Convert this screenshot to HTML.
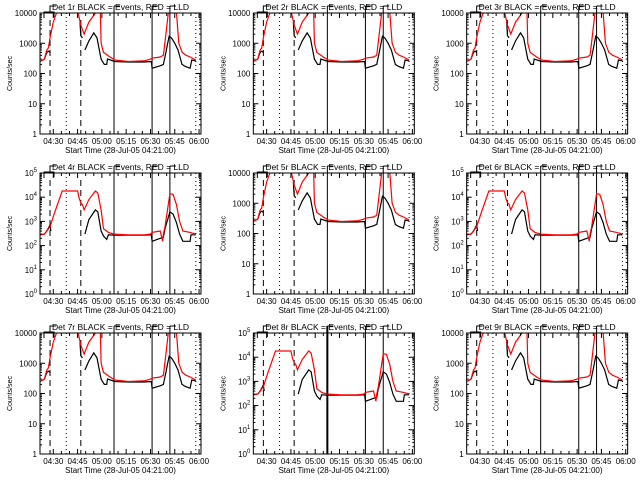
<!DOCTYPE html>
<html><head><meta charset="utf-8"><style>
html,body{margin:0;padding:0;background:#fff}
svg{display:block}
text{font-family:"Liberation Sans",sans-serif;fill:#000}
</style></head><body>
<svg id="chart" width="640" height="480" xmlns="http://www.w3.org/2000/svg"></svg>
<script>
// time in minutes since 04:21:00
const timesA = [0.8,3.5,5,6,7,9,11,12,23.5,24,26,28,31,35,37,38,38.5,40,44,47,55,65,69,70,75,77,78.5,80,83,85,86.5,88.6,91,93.5,97];
const redA   = [250,300,600,700,1500,5000,10000,30000,30000,12000,4000,2000,5000,10000,15000,12000,1000,500,350,280,250,260,300,320,350,400,2000,10000,11000,11000,1000,500,400,350,280];
const timesBlk = [0.8,3.5,5,6,7,7.5,8,25.5,26,27,27.5,28.5,31,34,36,38.5,40.5,42,42.5,47,55,65,69.5,70,75,77,78.5,80.5,82,84,86,88.5,90.5,93.5,94.5,97];
const blackA = [250,300,500,550,500,null,null,5000,1800,1500,null,600,1200,2200,1500,300,200,200,300,250,240,240,250,150,180,200,500,1700,1500,1000,600,200,170,150,280,260];
const timesB = [0.8,3.5,5,7,10,14.5,24,25,26,27,28,31,35,36.5,38.5,40,43,46.5,55,65,69,70,75,76.5,77,78,81,83,85,87,89,93.5,97];
const redB   = [280,300,400,600,2500,18000,18000,9000,6000,5000,3000,8000,18000,15000,3000,500,350,300,280,280,300,350,400,150,300,600,14000,13000,5000,1000,400,350,300];
const blackB = [280,300,400,700,null,null,null,null,null,null,300,1200,3000,2500,400,250,180,280,270,270,300,150,200,220,300,500,2500,2000,900,300,150,150,280,280,280].slice(0,0);
const timesBB = [0.8,3.5,5,7,7.5,8,28.5,31,35,36.5,38.5,40,42,43,46.5,55,65,69.5,70,75,77,78,81,83,85,87,89,93.5,94,97];
const blackBB = [280,300,400,700,400,null,300,1200,3000,2500,400,250,180,280,270,270,270,280,150,200,220,500,2500,2000,900,300,150,150,280,280];
const xTickLabels = ["04:30","04:45","05:00","05:15","05:30","05:45","06:00"];
const xTickTimes = [9,24,39,54,69,84,99];
const panelNames = ["1r","2r","3r","4r","5r","6r","7r","8r","9r"];
const panelGroup = ["A","A","A","B","A","B","A","B","A"];
const dashedTimes=[7,26], dottedTimes=[17,97], solidTimes=[46.5,70,81];

const NS="http://www.w3.org/2000/svg";
const svg=document.getElementById('chart');
function mk(tag,attrs,parent){const e=document.createElementNS(NS,tag);for(const k in attrs)e.setAttribute(k,attrs[k]);(parent||svg).appendChild(e);return e;}

panelNames.forEach((nm,i)=>{
  const col=i%3,row=Math.floor(i/3);
  const ox=col*213.33, oy=row*160;
  const g=mk('g',{transform:`translate(${ox.toFixed(2)},${oy})`});
  
  
  const L=40,R=201,T=13,B=134;
  const isB=panelGroup[i]==="B";
  const ymaxExp=isB?5:4;
  const xs=t=>L+(t-0.8)*(R-L)/(100.2-0.8);
  const ys=v=>B-(Math.log10(v))*(B-T)/ymaxExp;
  const clip=mk('clipPath',{id:'c'+i},g);
  mk('rect',{x:L,y:T,width:R-L,height:B-T},clip);
  // vertical markers
  dashedTimes.forEach(t=>{const l=mk('line',{x1:xs(t),x2:xs(t),y1:20,y2:B,stroke:'#000','stroke-dasharray':'6,4'},g);});
  dottedTimes.forEach(t=>{const l=mk('line',{x1:xs(t),x2:xs(t),y1:T,y2:B,stroke:'#000','stroke-dasharray':'1,3'},g);});
  solidTimes.forEach(t=>{const l=mk('line',{x1:xs(t),x2:xs(t),y1:6,y2:B,stroke:'#000','stroke-width':i==7&&t==46.5?2:1},g);
    mk('line',{x1:xs(t),x2:xs(t)+6,y1:6,y2:6,stroke:'#000'},g);});
  mk('path',{d:`M${L+4},18 V12 H${L+14} V17 M${L+10},12 V6 H${L+16}`,fill:'none',stroke:'#000'},g);
  // series
  function line(ts,vs,color,name){
    let d='',pen=false;
    ts.forEach((t,k)=>{const v=vs[k];if(v==null){pen=false;return;}d+=(pen?'L':'M')+xs(t).toFixed(1)+','+ys(v).toFixed(1);pen=true;});
    const p=mk('path',{d,fill:'none',stroke:color,'stroke-width':1.2,'clip-path':`url(#c${i})`},g);
    
  }
  if(isB){line(timesBB,blackBB,'#000','events-series');line(timesB,redB,'#f00','lld-series');}
  else{line(timesBlk,blackA,'#000','events-series');line(timesA,redA,'#f00','lld-series');}
  // box
  const box=mk('rect',{x:L,y:T,width:R-L,height:B-T,fill:'none',stroke:'#000'},g);
  
  // x ticks
  for(let t=9;t<=100;t+=5){const major=(t-9)%15==0;const len=major?5:3;
    mk('line',{x1:xs(t),x2:xs(t),y1:B,y2:B-len,stroke:'#000'},g);mk('line',{x1:xs(t),x2:xs(t),y1:T,y2:T+len,stroke:'#000'},g);}
  xTickTimes.forEach((t,k)=>{const tx=mk('text',{x:xs(t),y:B+10,'font-size':8,'text-anchor':'middle'},g);tx.textContent=xTickLabels[k];
    });
  // y ticks
  for(let e=0;e<=ymaxExp;e++){
    const y=ys(Math.pow(10,e));
    mk('line',{x1:L,x2:L+5,y1:y,y2:y,stroke:'#000'},g);mk('line',{x1:R,x2:R-5,y1:y,y2:y,stroke:'#000'},g);
    if(e<ymaxExp)for(let m=2;m<10;m++){const yy=ys(m*Math.pow(10,e));mk('line',{x1:L,x2:L+2,y1:yy,y2:yy,stroke:'#000'},g);mk('line',{x1:R,x2:R-2,y1:yy,y2:yy,stroke:'#000'},g);}
    const tx=mk('text',{x:L-3,y:y+3,'font-size':8,'text-anchor':'end'},g);
    
    if(isB){tx.textContent='10';const s=mk('tspan',{'font-size':6,dy:-4},tx);s.textContent=String(e);}
    else tx.textContent=String(Math.pow(10,e));
  }
  const yt=mk('text',{x:0,y:0,'font-size':7,'text-anchor':'middle',transform:`translate(12,${(T+B)/2}) rotate(-90)`},g);
  yt.textContent='Counts/sec';
  const xt=mk('text',{x:(L+R)/2,y:B+19,'font-size':8,'text-anchor':'middle'},g);
  xt.textContent='Start Time (28-Jul-05 04:21:00)';
  const ti=mk('text',{x:(L+R)/2,y:10,'font-size':8.5,'text-anchor':'middle'},g);
  ti.textContent='Det '+nm+' BLACK = Events, RED = LLD';
});
</script>
</body></html>
